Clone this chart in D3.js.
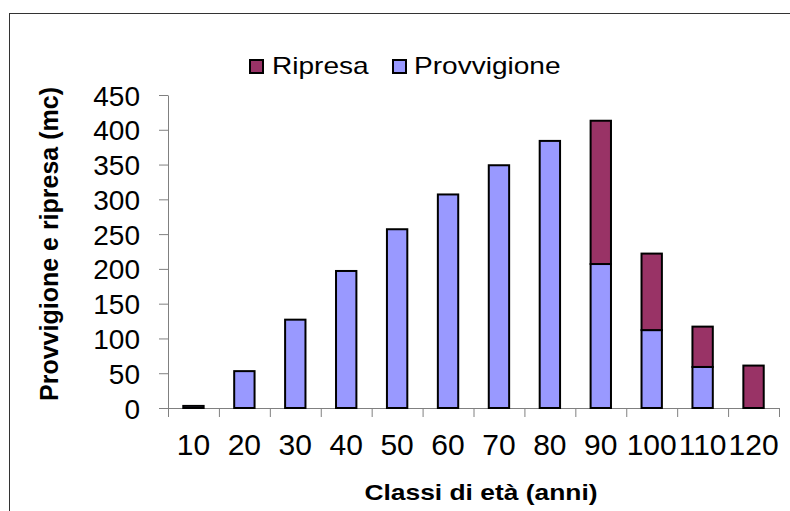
<!DOCTYPE html>
<html>
<head>
<meta charset="utf-8">
<script src="https://cdn.jsdelivr.net/npm/d3@7"></script>
<style>
  body { margin: 0; background: #fff; }
  text { font-family: "Liberation Sans", Arial, sans-serif; fill: #000; }
</style>
</head>
<body>
<div id="chart"></div>
<script>
// data
var classes = ["10", "20", "30", "40", "50", "60", "70", "80", "90", "100", "110", "120"]
var provvigione = [3, 53, 127, 197, 257, 307, 349, 384, 207, 112, 59, 0]
var ripresa = [0, 0, 0, 0, 0, 0, 0, 0, 206, 110, 58, 61]
var yTicks = [0, 50, 100, 150, 200, 250, 300, 350, 400, 450]
var seriesNames = ["Provvigione", "Ripresa"]
var colors = { "Provvigione": "#9999ff", "Ripresa": "#993366" }

var width = 790, height = 511
var plotLeft = 168, plotRight = 779, plotBottom = 408, plotTop = 95

var svg = d3.select("#chart").append("svg")
    .attr("width", width)
    .attr("height", height)

// outer frame (right and bottom edges fall outside the picture)
svg.append("rect")
    .attr("x", 9.5).attr("y", 13.5)
    .attr("width", 800).attr("height", 520)
    .attr("fill", "none")
    .attr("stroke", "#333")
    .attr("stroke-width", 1)

var rows = classes.map(function (c, i) {
    return { cls: c, Provvigione: provvigione[i], Ripresa: ripresa[i] }
})
var stacked = d3.stack().keys(seriesNames)(rows)

const x = d3.scaleBand()
    .domain(classes)
    .range([plotLeft, plotRight])
    .paddingInner(0.6)
    .paddingOuter(0.3)

const y = d3.scaleLinear()
    .domain([0, 450])
    .range([plotBottom, plotTop])

// ticks between categories, like the spreadsheet axis
const xEdges = d3.scaleLinear().domain([0, classes.length]).range([plotLeft, plotRight])

svg.append("g")
    .attr("transform", `translate(0,${plotBottom})`)
    .call(d3.axisBottom(xEdges).tickValues(d3.range(classes.length + 1)).tickFormat("").tickSize(9).tickSizeOuter(0))
    .call(g => g.selectAll("line, path").attr("stroke", "#808080"))

var xLabels = svg.append("g")
    .attr("transform", `translate(0,${plotBottom})`)
    .call(d3.axisBottom(x).tickSize(0))
xLabels.select(".domain").remove()
xLabels.selectAll("text")
    .attr("y", 47).attr("dy", 0)
    .style("font-size", "30px")

var yAxis = svg.append("g")
    .attr("transform", `translate(${plotLeft},0)`)
    .call(d3.axisLeft(y).tickValues(yTicks).tickSize(9).tickSizeOuter(0))
yAxis.selectAll("line, path").attr("stroke", "#808080")
yAxis.selectAll("text")
    .attr("x", -28)
    .attr("dy", "0.36em")
    .style("font-size", "28px")

// Bars
svg.append("g").selectAll("g")
    .data(stacked)
    .join("g")
    .attr("fill", d => colors[d.key])
    .selectAll("rect")
    .data(d => d.filter(p => p[1] - p[0] > 0))
    .join("rect")
    .attr("x", d => x(d.data.cls))
    .attr("y", d => y(d[1]))
    .attr("width", x.bandwidth())
    .attr("height", d => y(d[0]) - y(d[1]))
    .attr("stroke", "#000")
    .attr("stroke-width", 2)

// legend
var legendItems = [
    { name: "Ripresa", x: 249, tx: 272 },
    { name: "Provvigione", x: 392, tx: 414 }
]
var legend = svg.append("g")
legend.selectAll("rect")
    .data(legendItems)
    .join("rect")
    .attr("x", d => d.x + 1).attr("y", 60)
    .attr("width", 13).attr("height", 13)
    .attr("fill", d => colors[d.name])
    .attr("stroke", "#000")
    .attr("stroke-width", 2)
legend.selectAll("text")
    .data(legendItems)
    .join("text")
    .attr("x", d => d.tx / 1.22)
    .attr("y", 74)
    .attr("transform", "scale(1.22,1)")
    .style("font-size", "23px")
    .text(d => d.name)

// axis titles
svg.append("text")
    .attr("x", 481 / 1.2)
    .attr("y", 500)
    .attr("transform", "scale(1.2,1)")
    .attr("text-anchor", "middle")
    .style("font-size", "22px")
    .style("font-weight", "bold")
    .text("Classi di età (anni)")

svg.append("text")
    .attr("transform", "translate(58,244) rotate(-90)")
    .attr("text-anchor", "middle")
    .style("font-size", "25px")
    .style("font-weight", "bold")
    .text("Provvigione e ripresa (mc)")
</script>
</body>
</html>
